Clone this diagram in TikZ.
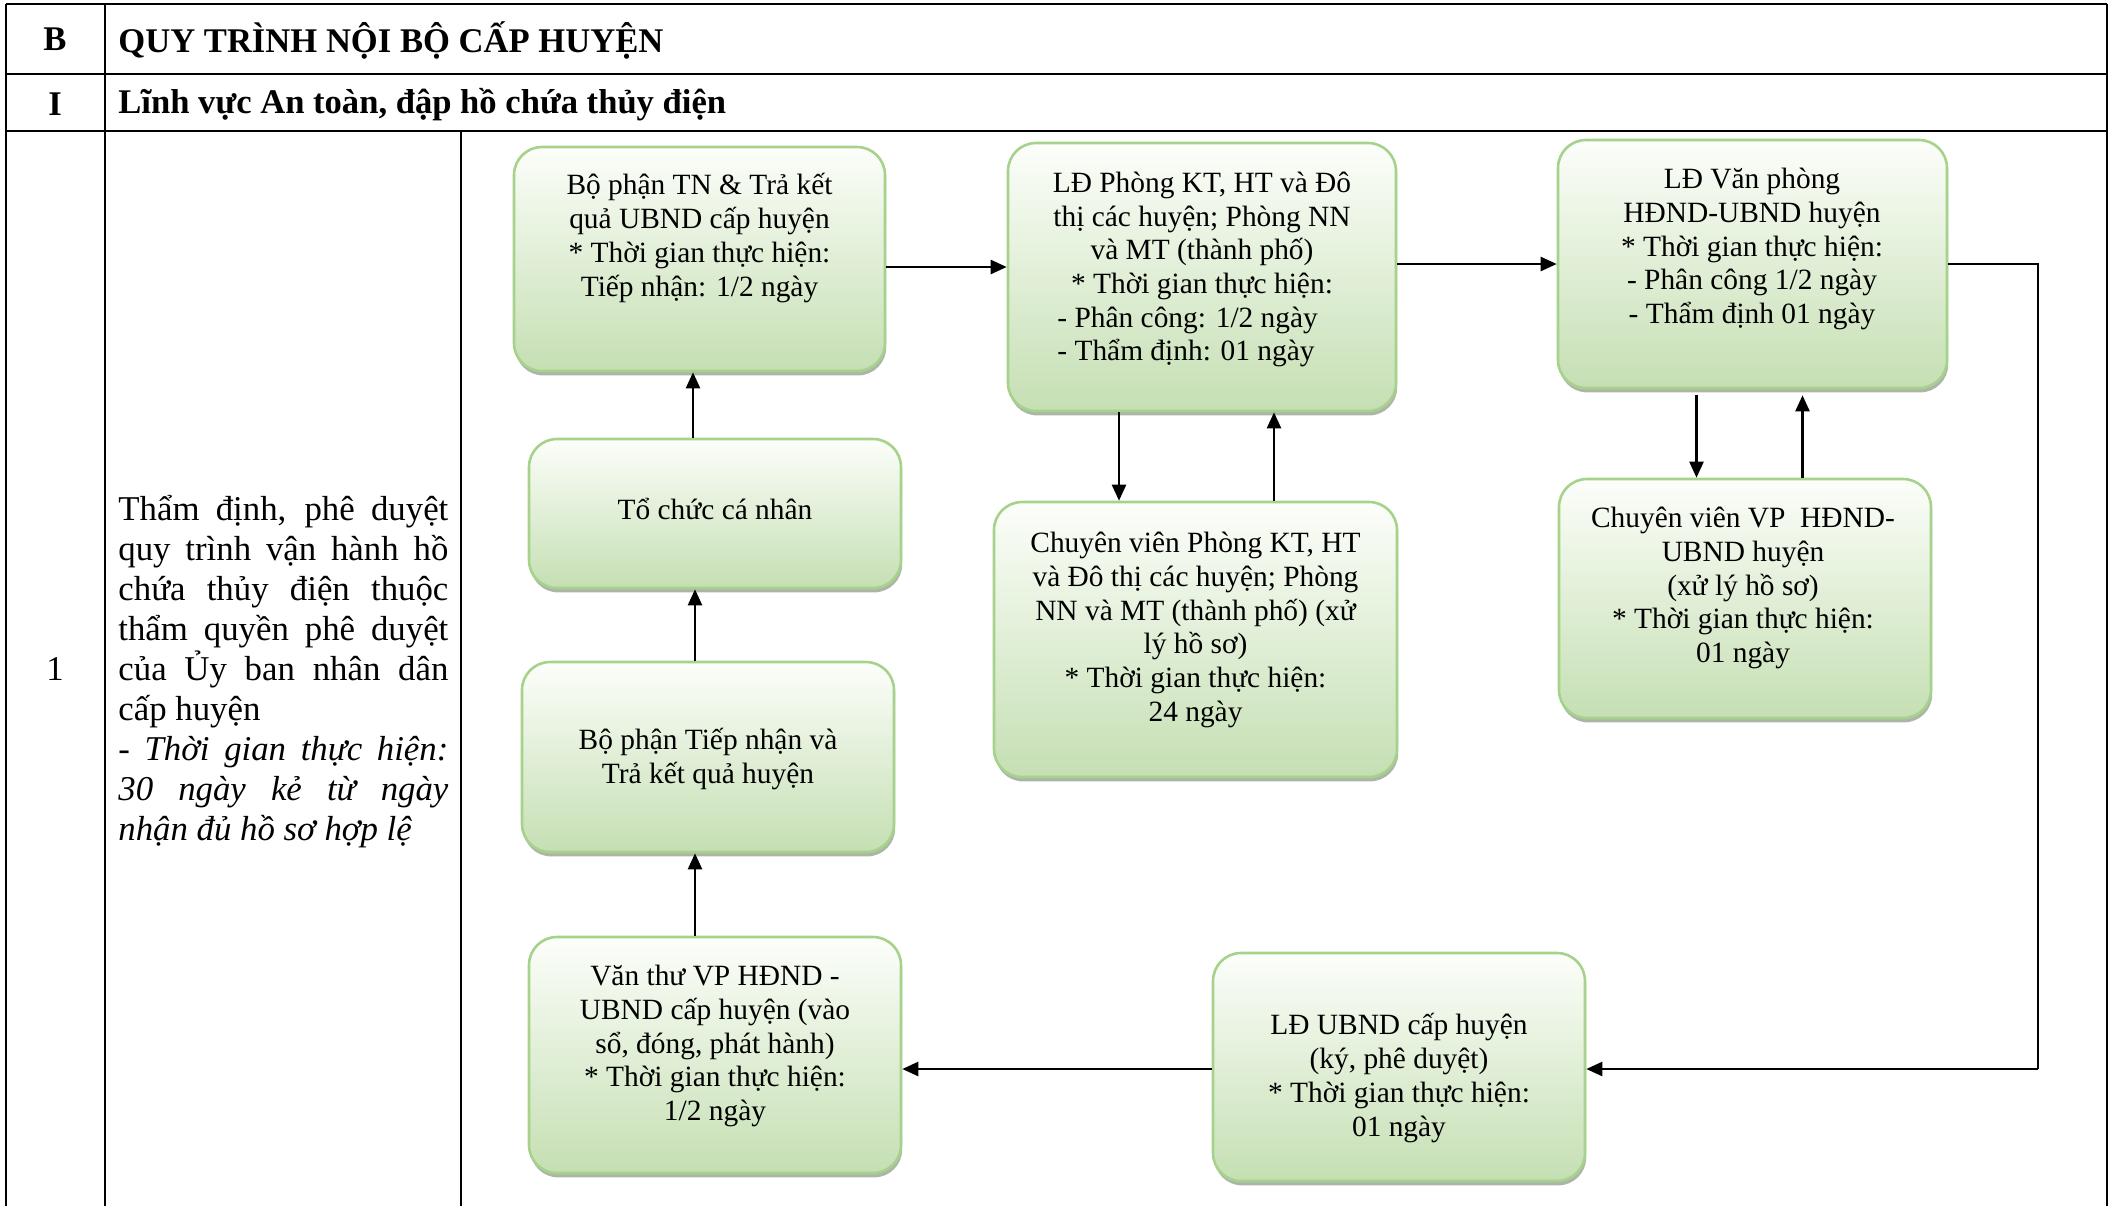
\documentclass[tikz,border=0pt]{standalone}
\usepackage{fontspec}
\setmainfont{Liberation Serif}
\usetikzlibrary{arrows.meta,shadows,calc}
\definecolor{boxtop}{HTML}{FCFEFA}
\definecolor{boxbot}{HTML}{C5DFB3}
\definecolor{boxline}{HTML}{A6D28C}
\definecolor{shadowc}{HTML}{A3AE9E}
\begin{document}
\begin{tikzpicture}[x=0.5pt,y=-0.5pt,
  tab/.style={line width=1pt,black},
  flowbox/.style={draw=boxline, line width=1.3pt, rounded corners=14pt,
    top color=boxtop, bottom color=boxbot, inner sep=0pt,
    drop shadow={shadow xshift=0.6pt, shadow yshift=-2.2pt, fill=shadowc, opacity=0.9}},
  boxtext/.style={align=center, inner sep=0pt, font=\fontsize{14.7}{16.85}\selectfont},
  head/.style={inner sep=0pt, font=\fontsize{17.3}{20}\selectfont\bfseries},
  arr/.style={line width=1.2pt, -{Triangle[length=8pt,width=7pt]}},
  link/.style={line width=1pt}]
\useasboundingbox (0,0) rectangle (2111,1206);
% table
\draw[tab] (6,4) -- (2107,4);
\draw[tab] (6,74) -- (2107,74);
\draw[tab] (6,131) -- (2107,131);
\draw[tab] (6,4) -- (6,1206);
\draw[tab] (105,4) -- (105,1206);
\draw[tab] (461,131) -- (461,1206);
\draw[tab] (2107,4) -- (2107,1206);
\node[head] (hB) at (55,39) {B};
\node[head, anchor=west] (hBt) at (118,40) {QUY TRÌNH NỘI BỘ CẤP HUYỆN};
\node[head] (hI) at (55,104) {I};
\node[head, anchor=west] (hIt) at (118,105) {Lĩnh vực An toàn, đập hồ chứa thủy điện};
\node[inner sep=0pt, font=\fontsize{17.4}{20}\selectfont] (n1) at (55,669) {1};
\node[anchor=west, inner sep=0pt, align=left, font=\fontsize{17.4}{20}\selectfont] (desc) at (118,672) {%
\makebox[165pt][s]{Thẩm định, phê duyệt}\\
\makebox[165pt][s]{quy trình vận hành hồ}\\
\makebox[165pt][s]{chứa thủy điện thuộc}\\
\makebox[165pt][s]{thẩm quyền phê duyệt}\\
\makebox[165pt][s]{của Ủy ban nhân dân}\\
cấp huyện\\
\makebox[165pt][s]{\itshape - Thời gian thực hiện:}\\
\makebox[165pt][s]{\itshape 30 ngày kẻ từ ngày}\\
\textit{nhận đủ hồ sơ hợp lệ}};
% boxes
\node[flowbox, minimum width=185.5pt, minimum height=112pt] (b1) at (699.5,259) {};
\node[flowbox, minimum width=194pt, minimum height=134pt] (b2) at (1202,277) {};
\node[flowbox, minimum width=194.5pt, minimum height=124pt] (b3) at (1752.5,264) {};
\node[flowbox, minimum width=186pt, minimum height=74.5pt] (b4) at (715,513.5) {};
\node[flowbox, minimum width=201.5pt, minimum height=137.5pt] (b5) at (1195.5,639.5) {};
\node[flowbox, minimum width=186pt, minimum height=119.5pt] (b6) at (1745,598.5) {};
\node[flowbox, minimum width=186pt, minimum height=95pt] (b7) at (708,757) {};
\node[flowbox, minimum width=186pt, minimum height=118pt] (b8) at (715,1055) {};
\node[flowbox, minimum width=186pt, minimum height=114pt] (b9) at (1399,1067) {};
% texts
\node[boxtext] (t1) at (699.5,238) {Bộ phận TN \& Trả kết\\quả UBND cấp huyện\\* Thời gian thực hiện:\\Tiếp nhận: 1/2 ngày};
\node[boxtext] (t2) at (1202,236) {LĐ Phòng KT, HT và Đô\\thị các huyện; Phòng NN\\và MT (thành phố)\\* Thời gian thực hiện:};
\node[boxtext, align=left, anchor=west] (t2b) at (1057,337) {- Phân công: 1/2 ngày\\- Thẩm định: 01 ngày};
\node[boxtext] (t3) at (1752,249) {LĐ Văn phòng\\HĐND-UBND huyện\\* Thời gian thực hiện:\\- Phân công 1/2 ngày\\- Thẩm định 01 ngày};
\node[boxtext] (t4) at (715,509) {Tổ chức cá nhân};
\node[boxtext] (t5) at (1195.5,630) {Chuyên viên Phòng KT, HT\\và Đô thị các huyện; Phòng\\NN và MT (thành phố) (xử\\lý hồ sơ)\\* Thời gian thực hiện:\\24 ngày};
\node[boxtext] (t6) at (1743,588) {Chuyên viên VP\ \ HĐND-\\UBND huyện\\(xử lý hồ sơ)\\* Thời gian thực hiện:\\01 ngày};
\node[boxtext] (t7) at (708,759) {Bộ phận Tiếp nhận và\\Trả kết quả huyện};
\node[boxtext] (t8) at (715,1046) {Văn thư VP HĐND -\\UBND cấp huyện (vào\\sổ, đóng, phát hành)\\* Thời gian thực hiện:\\1/2 ngày};
\node[boxtext] (t9) at (1399,1078) {LĐ UBND cấp huyện\\(ký, phê duyệt)\\* Thời gian thực hiện:\\01 ngày};
% connectors
\coordinate (a1) at ([yshift=-4pt]b1.east);
\draw[arr] (a1) -- (a1 -| b2.west);
\draw[arr] (b3.west -| b2.east) -- (b3.west);
\coordinate (cR) at (2038,1069);
\coordinate (a9) at ([yshift=-1pt]b9.east);
\draw[link] (b3.east) -| (cR);
\draw[arr] (cR) -- (a9);
\coordinate (w9) at ([yshift=-1pt]b9.west);
\draw[arr] (w9) -- (w9 -| b8.east);
\coordinate (v1) at ([xshift=-10pt]b8.north);
\draw[arr] (v1) -- (v1 |- b7.south);
\coordinate (v2) at ([xshift=-6.5pt]b7.north);
\draw[arr] (v2) -- (v2 |- b4.south);
\coordinate (v3) at ([xshift=-11pt]b4.north);
\draw[arr] (v3) -- (v3 |- b1.south);
\coordinate (d2) at ([xshift=-41.5pt]b2.south);
\draw[arr] (d2) -- (d2 |- b5.north);
\coordinate (u2) at ([xshift=36pt]b2.south);
\draw[arr] (u2 |- b5.north) -- (u2);
\coordinate (d3) at ([xshift=-28pt,yshift=-3pt]b3.south);
\draw[arr] (d3) -- (d3 |- b6.north);
\coordinate (u3) at ([xshift=25pt,yshift=-3pt]b3.south);
\draw[arr] (u3 |- b6.north) -- (u3);
\end{tikzpicture}
\end{document}
